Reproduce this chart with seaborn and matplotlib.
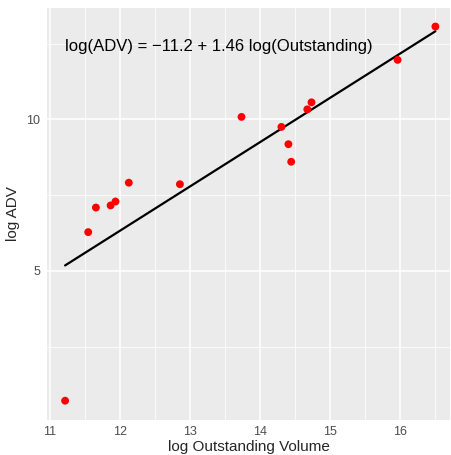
import numpy as np
import pandas as pd
import matplotlib
matplotlib.use("Agg")
import matplotlib.pyplot as plt
import seaborn as sns
from matplotlib.ticker import MultipleLocator

# values
log_outstanding = [16.51, 15.97, 14.74, 14.68, 13.74, 14.31, 14.41, 14.45,
                   12.13, 12.86, 11.94, 11.87, 11.66, 11.55, 11.22]
log_adv = [13.06, 11.96, 10.56, 10.33, 10.08, 9.75, 9.18, 8.60,
           7.91, 7.86, 7.29, 7.16, 7.09, 6.28, 0.72]
intercept = -11.2
slope = 1.46
label = "log(ADV) = \u221211.2 + 1.46 log(Outstanding)"

df = pd.DataFrame({"x": log_outstanding, "y": log_adv})
fit = pd.DataFrame({"x": [min(log_outstanding), max(log_outstanding)]})
fit["y"] = intercept + slope * fit["x"]

sns.set_theme(style="darkgrid", rc={
    "axes.facecolor": "#EBEBEB",
    "grid.color": "white",
    "axes.edgecolor": "#EBEBEB",
})
plt.rcParams["font.family"] = ["Liberation Sans", "DejaVu Sans"]

fig = plt.figure(figsize=(4.51, 4.55), dpi=100)
ax = fig.add_axes([0.104, 0.078, 0.894, 0.905])

sns.lineplot(data=fit, x="x", y="y", color="black", linewidth=1.6, ax=ax, zorder=2)
sns.scatterplot(data=df, x="x", y="y", color="red", s=32, edgecolor="none", ax=ax, zorder=3)

ax.set_xlim(10.96, 16.72)
ax.set_ylim(0.10, 13.68)
ax.xaxis.set_major_locator(MultipleLocator(1))
ax.xaxis.set_minor_locator(MultipleLocator(0.5))
ax.set_yticks([5, 10])
ax.yaxis.set_minor_locator(MultipleLocator(2.5))
ax.grid(which="major", color="white", linewidth=1.1)
ax.grid(which="minor", color="white", linewidth=0.55)
ax.tick_params(which="major", length=3, width=0.8, color="#333333", labelsize=9, labelcolor="#4D4D4D", pad=2)
ax.tick_params(which="minor", length=0)
for s in ax.spines.values():
    s.set_visible(False)

ax.set_xlabel("log Outstanding Volume", fontsize=11, labelpad=1)
ax.set_ylabel("log ADV", fontsize=11, labelpad=4)

ax.text(11.22, 12.40, label, fontsize=12, ha="left", va="center", color="black")

fig.savefig("out.png", dpi=100)
